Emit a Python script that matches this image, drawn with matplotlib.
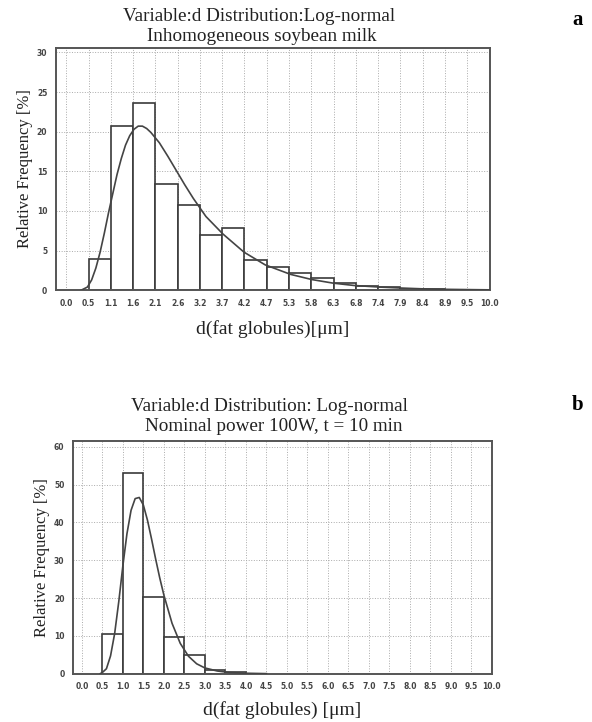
import matplotlib.pyplot as plt
import numpy as np

# panel a: inhomogeneous soybean milk
edges_a = np.linspace(0, 10, 20)
tick_labels_a = ['0.0', '0.5', '1.1', '1.6', '2.1', '2.6', '3.2', '3.7', '4.2', '4.7',
                 '5.3', '5.8', '6.3', '6.8', '7.4', '7.9', '8.4', '8.9', '9.5', '10.0']
freq_a = [4.0, 20.7, 23.6, 13.4, 10.8, 7.0, 7.8, 3.8, 2.9, 2.2,
          1.6, 0.9, 0.55, 0.4, 0.2, 0.1, 0.05, 0.05]
fit_x_a = [0.35, 0.5, 0.6, 0.7, 0.8, 0.9, 1.0, 1.1, 1.2, 1.3, 1.4, 1.5, 1.6, 1.7, 1.8, 1.9,
           2.0, 2.2, 2.4, 2.6, 2.8, 3.0, 3.3, 3.7, 4.2, 4.7, 5.3, 5.8, 6.3, 6.8, 7.4,
           7.9, 8.4, 8.9, 9.5, 10.0]
fit_y_a = [0.0, 0.4, 1.3, 2.8, 4.8, 7.2, 9.8, 12.2, 14.6, 16.6, 18.3, 19.5, 20.3, 20.7, 20.7, 20.4,
           19.9, 18.6, 16.9, 15.1, 13.3, 11.6, 9.3, 7.1, 4.8, 3.2, 2.0, 1.35, 0.9, 0.6, 0.4,
           0.28, 0.18, 0.12, 0.08, 0.05]

# panel b: nominal power 100 W, t = 10 min
edges_b = np.linspace(0, 10, 21)
tick_labels_b = ['0.0', '0.5', '1.0', '1.5', '2.0', '2.5', '3.0', '3.5', '4.0', '4.5', '5.0',
                 '5.5', '6.0', '6.5', '7.0', '7.5', '8.0', '8.5', '9.0', '9.5', '10.0']
freq_b = [10.4, 53.0, 20.3, 9.8, 4.9, 1.0, 0.45]
fit_x_b = [0.45, 0.5, 0.6, 0.7, 0.8, 0.9, 1.0, 1.1, 1.2, 1.3, 1.4, 1.5, 1.6, 1.7, 1.8, 1.9,
           2.0, 2.2, 2.4, 2.6, 2.8, 3.0, 3.3, 3.6, 4.0, 4.5]
fit_y_b = [0.0, 0.3, 1.3, 4.7, 10.6, 19.0, 28.5, 37.0, 43.2, 46.3, 46.6, 44.6, 40.6, 35.6, 30.3, 25.3,
           20.8, 13.3, 8.0, 4.6, 2.6, 1.5, 0.7, 0.3, 0.1, 0.0]

serif = 'Liberation Serif'
edge = '#3a3a3a'

fig = plt.figure(figsize=(5.92, 7.22), dpi=100)
ax_a = fig.add_axes([0.094, 0.598, 0.733, 0.336])
ax_b = fig.add_axes([0.123, 0.067, 0.708, 0.322])


def style(ax, edges, labels, ymax, ystep):
    ax.set_xticks(edges)
    ax.set_xticklabels(labels)
    ax.set_yticks(np.arange(0, ymax, ystep))
    ax.tick_params(length=0, labelsize=5.5, colors='#444', pad=6)
    for lab in ax.get_xticklabels() + ax.get_yticklabels():
        lab.set_fontweight('bold')
    ax.grid(True, linestyle=':', color='#aaa', linewidth=0.7)
    ax.set_axisbelow(True)
    for sp in ax.spines.values():
        sp.set_color('#555')
        sp.set_linewidth(1.4)


# panel a
ax_a.bar(edges_a[1:-1], freq_a, width=np.diff(edges_a)[1:], align='edge',
         color='white', edgecolor=edge, linewidth=1.2, zorder=2)
ax_a.plot(fit_x_a, fit_y_a, color='#444', linewidth=1.2, zorder=3)
ax_a.set_xlim(-0.25, 10)
ax_a.set_ylim(0, 30.6)
style(ax_a, edges_a, tick_labels_a, 31, 5)
ax_a.set_ylabel('Relative Frequency [%]', family=serif, fontsize=12, color='#222', labelpad=3)
ax_a.set_xlabel('d(fat globules)[\u03bcm]', family=serif, fontsize=14, color='#222', labelpad=9)

# panel b
ax_b.bar(edges_b[1:1 + len(freq_b)], freq_b, width=0.5, align='edge',
         color='white', edgecolor=edge, linewidth=1.2, zorder=2)
ax_b.plot(fit_x_b, fit_y_b, color='#444', linewidth=1.2, zorder=3)
ax_b.set_xlim(-0.22, 10)
ax_b.set_ylim(0, 61.5)
style(ax_b, edges_b, tick_labels_b, 61, 10)
ax_b.set_ylabel('Relative Frequency [%]', family=serif, fontsize=12, color='#222', labelpad=3)
ax_b.set_xlabel('d(fat globules) [\u03bcm]', family=serif, fontsize=14, color='#222', labelpad=7)

title_kw = dict(family=serif, fontsize=13.8, ha='center', va='center', color='#222')
fig.text(0.4375, 0.9765, 'Variable:d Distribution:Log-normal', **title_kw)
fig.text(0.4425, 0.9488, 'Inhomogeneous soybean milk', **title_kw)
fig.text(0.455, 0.4363, 'Variable:d Distribution: Log-normal', **title_kw)
fig.text(0.4625, 0.4086, 'Nominal power 100W, t = 10 min', **title_kw)
fig.text(0.985, 0.972, 'a', family=serif, fontsize=15, fontweight='bold', ha='right', va='center')
fig.text(0.985, 0.439, 'b', family=serif, fontsize=15, fontweight='bold', ha='right', va='center')

fig.savefig('out.png', dpi=100)
